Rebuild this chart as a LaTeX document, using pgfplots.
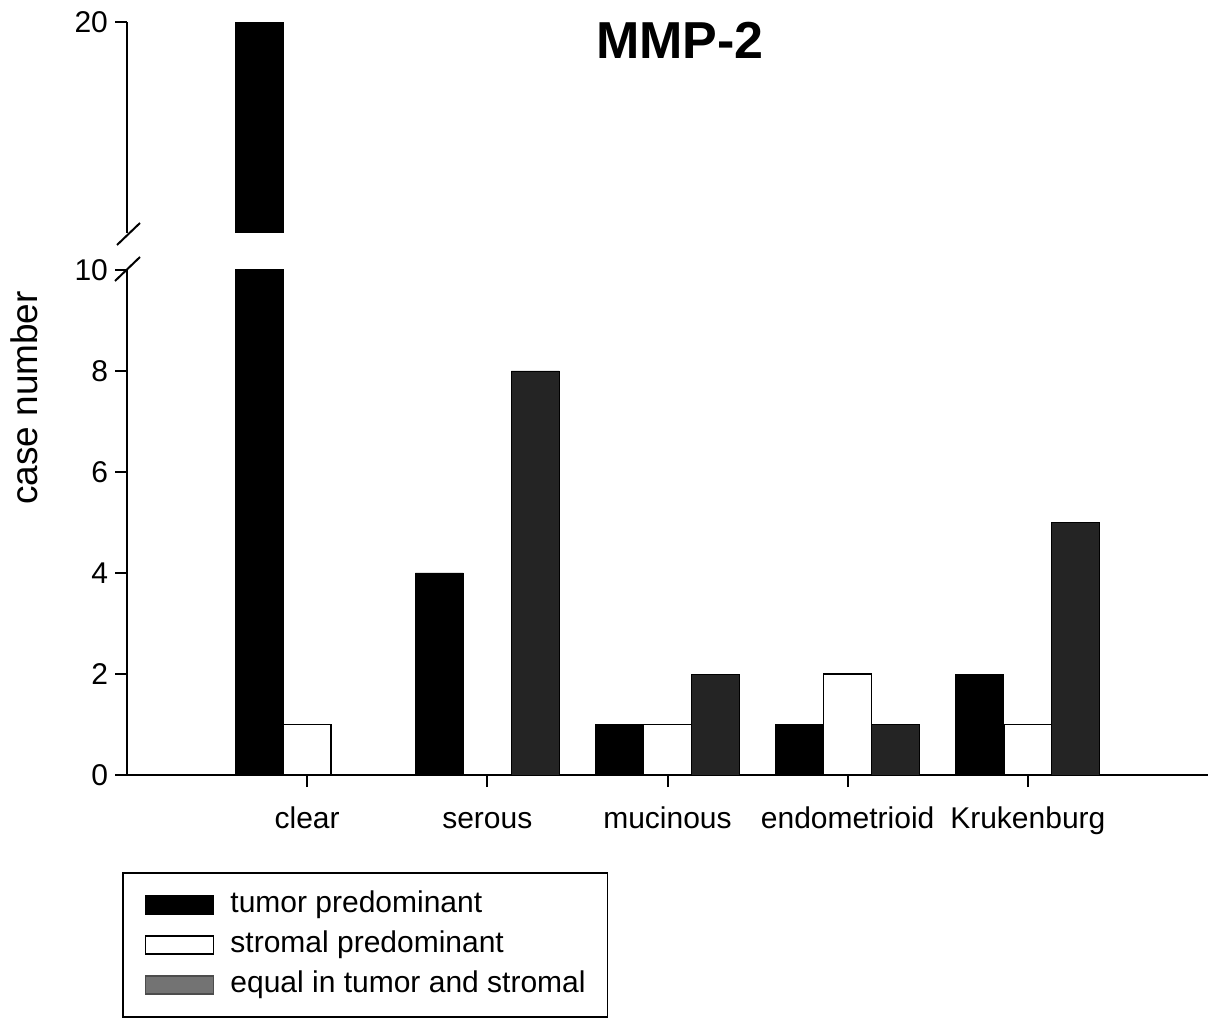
\documentclass[border=0pt]{standalone}
\usepackage{fontspec}
\setmainfont{Liberation Sans}
\usepackage{pgfplots}
\usepackage{pgfplotstable}
\pgfplotsset{compat=1.18}

\pgfplotstableread{
x tumor stromal equal
0 20 1 0
1 4 0 8
2 1 1 2
3 1 2 1
4 2 1 5
}\datatable

\pgfplotsset{mybase/.style={
  scale only axis, width=540.5pt, xmin=-1, xmax=5,
  bar width=24pt,
  axis line style={line width=1pt, black},
  tick style={line width=1pt, black},
  major tick length=6pt, tick align=outside,
  ticklabel style={font=\fontsize{15}{18}\selectfont},
  /pgf/number format/assume math mode=true,
}}

\begin{document}
\begin{tikzpicture}[x=1pt,y=1pt]
\useasboundingbox (0,0) rectangle (608,509);

% lower axis
\begin{axis}[mybase,
  at={(63.5pt,121.5pt)}, anchor=south west, height=252.5pt,
  ymin=0, ymax=10, ytick={0,2,...,10},
  axis x line*=bottom, axis y line*=left,
  xtick={0,...,4},
  xticklabels={clear, serous, mucinous, endometrioid, Krukenburg},
  x tick label style={yshift=-6pt, text height=11pt, text depth=3pt},
  legend image code/.code={\draw[#1] (0pt,-4.5pt) rectangle (34pt,4.5pt);},
  legend style={at={(axis description cs:-0.0046,-0.192)}, anchor=north west,
    draw=black, line width=0.8pt, inner xsep=11pt, inner ysep=9pt,
    row sep=6pt, column sep=8pt,
    nodes={inner sep=0pt, text height=11pt, text depth=3pt,
           font=\fontsize{15}{18}\selectfont},
    cells={anchor=west}},
  legend columns=1,
]
\addplot[ybar, bar shift=-24pt, fill=black, draw=black, forget plot] table[x=x,y=tumor] {\datatable};
\addplot[ybar, bar shift=0pt, fill=white, draw=black, line width=0.8pt, forget plot] table[x=x,y=stromal] {\datatable};
\addplot[ybar, bar shift=24pt, fill=black!86, draw=black, forget plot] table[x=x,y=equal] {\datatable};
\addlegendimage{fill=black, draw=black}
\addlegendentry{tumor predominant}
\addlegendimage{fill=white, draw=black, line width=0.8pt}
\addlegendentry{stromal predominant}
\addlegendimage{fill=black!55, draw=black!70}
\addlegendentry{equal in tumor and stromal}
\end{axis}

% upper axis
\begin{axis}[mybase,
  at={(63.5pt,392.5pt)}, anchor=south west, height=105.5pt,
  ymin=10, ymax=20, ytick={20},
  axis y line*=left, axis x line=none, xtick=\empty,
]
\addplot[ybar, bar shift=-24pt, fill=black, draw=black, restrict y to domain=10:30] table[x=x,y=tumor] {\datatable};
\end{axis}

% axis break marks
\draw[line width=1pt] (58.5,386.5) -- (70,397.5);
\draw[line width=1pt] (57.5,368.5) -- (70,380.5);

\node[font=\fontsize{26}{30}\selectfont\bfseries] at (340,489) {MMP-2};
\node[rotate=90, font=\fontsize{18.5}{22}\selectfont] at (12,310) {case number};
\end{tikzpicture}
\end{document}
